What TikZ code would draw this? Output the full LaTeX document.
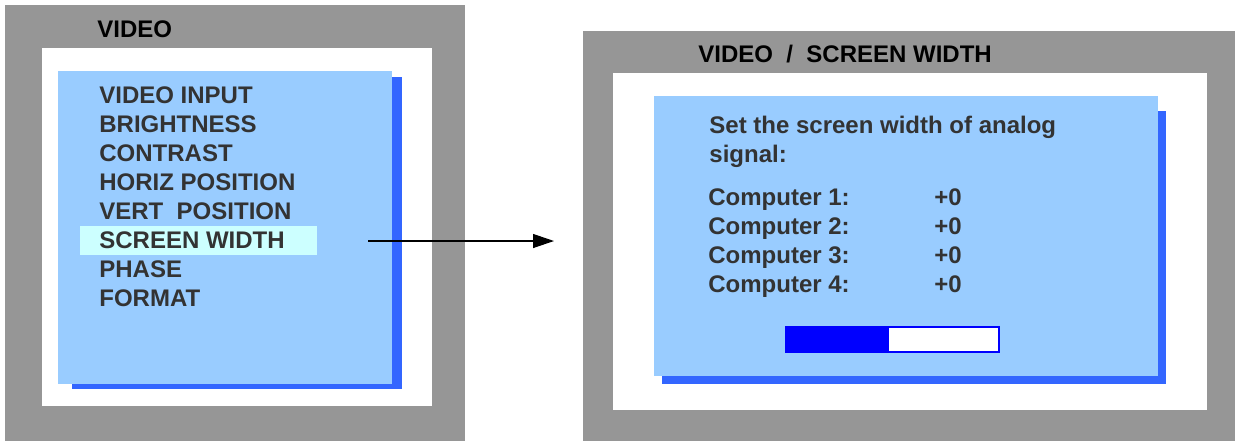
\documentclass[tikz,border=0pt]{standalone}
\usepackage{fontspec}
\setmainfont{Liberation Sans}
\usetikzlibrary{arrows.meta, positioning}

\definecolor{framegray}{RGB}{150,150,150}
\definecolor{panelblue}{RGB}{153,204,255}
\definecolor{shadowblue}{RGB}{51,102,255}
\definecolor{hilite}{RGB}{204,255,255}
\definecolor{menutext}{RGB}{51,51,51}
\definecolor{barblue}{RGB}{0,0,255}

\tikzset{
  menuitem/.style={anchor=base west, inner sep=0pt, text=menutext,
                   font=\bfseries\fontsize{12}{14.5}\selectfont},
  screentitle/.style={anchor=base west, inner sep=0pt, text=black,
                   font=\bfseries\fontsize{12}{14.5}\selectfont},
}

\begin{document}
\begin{tikzpicture}[x=0.5pt, y=-0.5pt, >={Triangle[length=10.5pt, width=7pt]}]
  \useasboundingbox (0,0) rectangle (1235,441);

  % Left screen: VIDEO menu
  \fill[framegray] (5,5) rectangle (465,441);
  \fill[white] (42,48) rectangle (432,406);
  \fill[shadowblue] (72,77) rectangle (402,389);
  \fill[panelblue] (58,71) rectangle (392,384);
  \fill[hilite] (80,226) rectangle (317,255);

  \node[screentitle] (menutitle) at (97,37) {VIDEO};
  \foreach \txt [count=\i] in {VIDEO INPUT, BRIGHTNESS, CONTRAST,
      HORIZ POSITION, VERT\ \ POSITION, SCREEN WIDTH, PHASE, FORMAT}
    \node[menuitem] (item\i) at (99, 74+29*\i) {\txt};

  % Right screen: VIDEO / SCREEN WIDTH
  \fill[framegray] (583,31) rectangle (1235,441);
  \fill[white] (613,73) rectangle (1207,410);
  \fill[shadowblue] (662,111) rectangle (1166,384);
  \fill[panelblue] (654,96) rectangle (1158,376);

  \node[screentitle] (subtitle) at (698,62) {VIDEO\ \ /\ \ SCREEN WIDTH};
  \node[menuitem] (desc) at (709,133) {Set the screen width of analog};
  \node[menuitem] (descb) at (709,162) {signal:};
  \foreach \n in {1,...,4} {
    \node[menuitem] (comp\n) at (708, 176+29*\n) {Computer \n:};
    \node[menuitem] (val\n) at (934, 176+29*\n) {+0};
  }

  % Width bar
  \draw[barblue, line width=0.8pt, fill=white] (786,327) rectangle (999,352);
  \fill[barblue] (786,327) rectangle (889,352);

  % Link between screens
  \coordinate (linkstart) at (368,241);
  \coordinate (linkend) at (554,241);
  \draw[->, line width=0.6pt] (linkstart) -- (linkend);
\end{tikzpicture}
\end{document}
